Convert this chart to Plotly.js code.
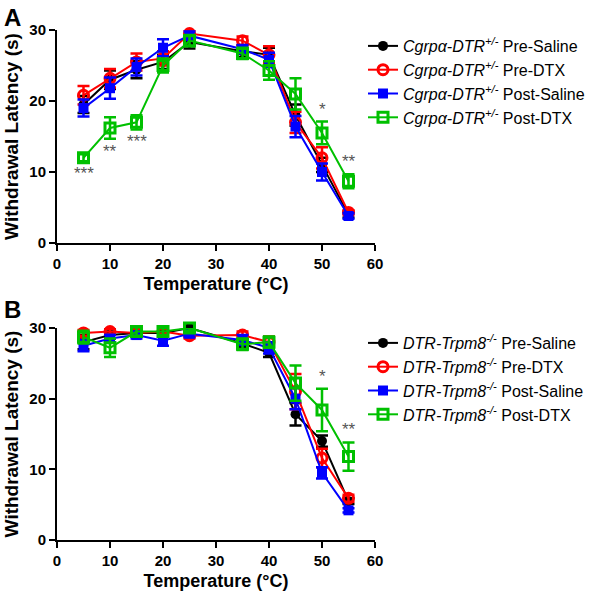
<!DOCTYPE html>
<html>
<head>
<meta charset="utf-8">
<script src="https://cdn.plot.ly/plotly-3.0.1.min.js"></script>
<style>html,body{margin:0;padding:0;background:#fff;}#chart{width:600px;height:591px;}</style>
</head>
<body>
<div id="chart"></div>
<script>
// ---------- data ----------
const temps = [5, 10, 15, 20, 25, 35, 40, 45, 50, 55];

// Panel A: Cgrpα-DTR+/-
const aPreSaline      = [19.5, 23.0, 24.4, 25.5, 28.3, 27.0, 26.5, 18.0, 11.0, 4.0];
const aPreSalineErr   = [1.2, 1.3, 1.2, 1.0, 0.9, 0.8, 1.0, 1.5, 1.0, 0.4];
const aPreDTX         = [20.8, 23.2, 25.5, 26.0, 29.5, 28.5, 26.5, 17.0, 12.0, 4.3];
const aPreDTXErr      = [1.3, 1.3, 1.2, 1.0, 0.5, 0.6, 1.2, 1.5, 1.5, 0.3];
const aPostSaline     = [19.0, 21.8, 24.8, 27.5, 29.2, 27.3, 25.8, 16.4, 10.0, 3.8];
const aPostSalineErr  = [1.2, 1.5, 1.2, 1.2, 0.6, 0.6, 1.0, 1.5, 1.2, 0.4];
const aPostDTX        = [12.0, 16.2, 17.0, 25.0, 28.5, 26.7, 24.3, 21.0, 15.5, 8.7];
const aPostDTXErr     = [0.5, 1.5, 1.0, 1.0, 0.8, 0.8, 1.3, 2.2, 1.6, 1.0];

// Panel B: DTR-Trpm8-/-
const bPreSaline      = [28.0, 29.0, 29.3, 29.3, 30.0, 27.8, 26.5, 17.8, 14.0, 5.5];
const bPreSalineErr   = [1.0, 0.5, 0.5, 0.5, 0.4, 0.5, 0.6, 1.6, 0.8, 0.4];
const bPreDTX         = [29.3, 29.5, 29.3, 29.5, 28.9, 29.0, 28.0, 21.0, 11.6, 5.9];
const bPreDTXErr      = [0.4, 0.4, 0.4, 0.4, 0.4, 0.5, 0.8, 2.5, 1.3, 0.5];
const bPostSaline     = [27.5, 28.5, 29.0, 28.2, 29.2, 28.3, 27.2, 20.0, 9.5, 4.2];
const bPostSalineErr  = [0.8, 0.5, 0.5, 0.7, 0.5, 0.7, 0.8, 1.5, 0.8, 0.3];
const bPostDTX        = [28.7, 27.2, 29.5, 29.5, 30.0, 27.7, 28.0, 22.2, 18.4, 11.8];
const bPostDTXErr     = [0.9, 1.3, 0.6, 0.5, 0.4, 0.8, 0.8, 2.5, 3.0, 2.0];

// significance marks (index into temps, label, placed below or above Post-DTX point)
const aSigIdx   = [0, 1, 2, 8, 9];
const aSigText  = ['***', '**', '***', '*', '**'];
const aSigSide  = ['below', 'below', 'below', 'above', 'above'];
const bSigIdx   = [8, 9];
const bSigText  = ['*', '**'];
const bSigSide  = ['above', 'above'];

const groupNames = ['Pre-Saline', 'Pre-DTX', 'Post-Saline', 'Post-DTX'];
const aPrefix = '<i>Cgrpα-DTR<sup>+/-</sup></i> ';
const bPrefix = '<i>DTR-Trpm8<sup>-/-</sup></i> ';

// ---------- styles ----------
const colors  = ['#000000', '#ff0000', '#0000ff', '#00c000'];
const symbols = ['circle', 'circle-open', 'square', 'square-open'];
const msizes  = [10, 10, 10, 10];
const mlines  = [0, 3, 0, 3];

function makeTraces(series, errs, prefix, xa, ya, legendId) {
  return series.map((ys, i) => ({
    type: 'scatter', mode: 'lines+markers',
    x: temps, y: ys, xaxis: xa, yaxis: ya,
    name: prefix + groupNames[i],
    legend: legendId,
    cliponaxis: false,
    line: {color: colors[i], width: 2},
    marker: {color: colors[i], symbol: symbols[i], size: msizes[i],
             line: {color: colors[i], width: mlines[i]}},
    error_y: {type: 'data', array: errs[i], visible: true, color: colors[i], thickness: 2.5, width: 6}
  }));
}

const traces = [].concat(
  makeTraces([aPreSaline, aPreDTX, aPostSaline, aPostDTX],
             [aPreSalineErr, aPreDTXErr, aPostSalineErr, aPostDTXErr], aPrefix, 'x', 'y', 'legend'),
  makeTraces([bPreSaline, bPreDTX, bPostSaline, bPostDTX],
             [bPreSalineErr, bPreDTXErr, bPostSalineErr, bPostDTXErr], bPrefix, 'x2', 'y2', 'legend2')
);

function sigAnn(idxs, texts, sides, vals, errs, xref, yref) {
  return idxs.map((k, j) => {
    const below = sides[j] === 'below';
    return {
      xref: xref, yref: yref, x: temps[k],
      y: below ? vals[k] - errs[k] : vals[k] + errs[k],
      text: texts[j], showarrow: false,
      yanchor: below ? 'top' : 'bottom',
      yshift: below ? -1 : 1,
      font: {family: 'Liberation Sans, Arial, sans-serif', size: 17, color: '#555'}
    };
  });
}

const tickFont  = {family: 'Liberation Sans, Arial, sans-serif', size: 15, color: '#000', weight: 'bold'};
const titleFont = {family: 'Liberation Sans, Arial, sans-serif', size: 18, color: '#000', weight: 'bold'};
const ytitleFont = {family: 'Liberation Sans, Arial, sans-serif', size: 19, color: '#000', weight: 'bold'};

function xAxis(anchor) {
  return {
    domain: [57/600, 375/600], anchor: anchor, range: [0, 60], dtick: 10, tick0: 0,
    showline: true, linecolor: '#000', linewidth: 2, mirror: false,
    ticks: 'outside', ticklen: 6, tickwidth: 2, tickcolor: '#000',
    showgrid: false, zeroline: false, tickfont: tickFont,
    title: {text: 'Temperature (°C)', font: titleFont, standoff: 6}
  };
}
function yAxis(anchor, top, bottom) {
  return {
    domain: [1 - bottom/591, 1 - top/591], anchor: anchor, range: [0, 30], dtick: 10, tick0: 0,
    showline: true, linecolor: '#000', linewidth: 2,
    ticks: 'outside', ticklen: 6, tickwidth: 2, tickcolor: '#000',
    showgrid: false, zeroline: false, tickfont: tickFont,
    title: {text: 'Withdrawal Latency (s)', font: ytitleFont, standoff: 6}
  };
}

const legendFont = {family: 'Liberation Sans, Arial, sans-serif', size: 16, color: '#000'};

const layout = {
  width: 600, height: 591,
  margin: {l: 0, r: 0, t: 0, b: 0},
  paper_bgcolor: '#fff', plot_bgcolor: '#fff',
  showlegend: true,
  xaxis: xAxis('y'),
  yaxis: yAxis('x', 30, 243),
  xaxis2: xAxis('y2'),
  yaxis2: yAxis('x2', 328, 540),
  legend: {x: 363/600, xanchor: 'left', y: 1 - 29/591, yanchor: 'top', font: legendFont,
           bgcolor: 'rgba(0,0,0,0)', itemwidth: 30, tracegroupgap: 0},
  legend2: {x: 363/600, xanchor: 'left', y: 1 - 326/591, yanchor: 'top', font: legendFont,
           bgcolor: 'rgba(0,0,0,0)', itemwidth: 30, tracegroupgap: 0},
  annotations: [].concat(
    sigAnn(aSigIdx, aSigText, aSigSide, aPostDTX, aPostDTXErr, 'x', 'y'),
    sigAnn(bSigIdx, bSigText, bSigSide, bPostDTX, bPostDTXErr, 'x2', 'y2'),
    [
      {xref: 'paper', yref: 'paper', x: 2/600, y: 1 - 2/591, xanchor: 'left', yanchor: 'top',
       text: '<b>A</b>', showarrow: false,
       font: {family: 'Liberation Sans, Arial, sans-serif', size: 24, color: '#000'}},
      {xref: 'paper', yref: 'paper', x: 2/600, y: 1 - 294/591, xanchor: 'left', yanchor: 'top',
       text: '<b>B</b>', showarrow: false,
       font: {family: 'Liberation Sans, Arial, sans-serif', size: 24, color: '#000'}}
    ]
  )
};

Plotly.newPlot('chart', traces, layout, {displayModeBar: false, staticPlot: true});
</script>
</body>
</html>
